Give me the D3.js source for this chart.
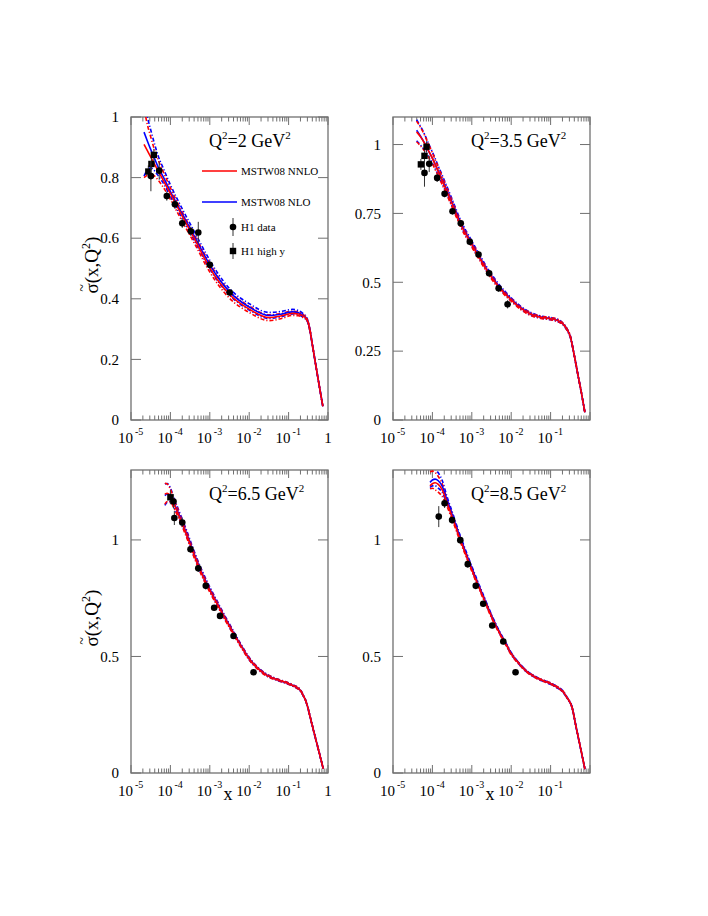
<!DOCTYPE html>
<html><head><meta charset="utf-8">
<script src="https://cdn.jsdelivr.net/npm/d3@7"></script>
<style>
body{margin:0;background:#fff}
text{font-family:"Liberation Serif","Times New Roman",serif;fill:#000}
</style>
</head><body>
<svg id="c" width="708" height="916"></svg>
<script>
// ---------- tick labels / titles ----------
const q2Labels = ["2", "3.5", "6.5", "8.5"];
const xTickExps = [-5, -4, -3, -2, -1];
const yTicks1 = [0, 0.2, 0.4, 0.6, 0.8, 1];
const yTicks2 = [0, 0.25, 0.5, 0.75, 1];
const yTicks3 = [0, 0.5, 1];
const yMax = [1, 1.1, 1.3, 1.3];
const legendLabels = ["MSTW08 NNLO", "MSTW08 NLO", "H1 data", "H1 high y"];

// ---------- Panel 1: Q2 = 2 ----------
const x1 = [2.14e-5,2.6e-5,3.16e-5,3.98e-5,5.0e-5,6.3e-5,1.0e-4,2.0e-4,4.0e-4,1.0e-3,1.58e-3,3.16e-3,1.0e-2,3.16e-2,6.3e-2,0.126,0.178,0.24,0.288,0.347,0.398,0.5,0.63,0.74];
const nnlo1  = [0.910,0.889,0.868,0.844,0.820,0.796,0.747,0.673,0.600,0.502,0.462,0.414,0.366,0.338,0.343,0.352,0.350,0.342,0.334,0.297,0.251,0.174,0.097,0.045];
const nnlo1U = [1.030,0.975,0.935,0.890,0.855,0.825,0.766,0.686,0.612,0.517,0.475,0.425,0.376,0.347,0.351,0.359,0.356,0.347,0.338,0.300,0.254,0.176,0.099,0.047];
const nnlo1L = [0.800,0.808,0.812,0.805,0.790,0.772,0.728,0.655,0.585,0.488,0.449,0.402,0.355,0.328,0.334,0.345,0.344,0.337,0.330,0.294,0.248,0.172,0.095,0.043];
const nlo1   = [0.950,0.921,0.893,0.862,0.832,0.807,0.754,0.680,0.608,0.512,0.472,0.423,0.373,0.345,0.349,0.357,0.354,0.344,0.334,0.297,0.251,0.174,0.097,0.045];
const nlo1U  = [1.050,1.000,0.958,0.910,0.868,0.837,0.776,0.697,0.623,0.527,0.485,0.434,0.384,0.355,0.358,0.365,0.361,0.350,0.339,0.300,0.254,0.176,0.099,0.047];
const nlo1L  = [0.805,0.825,0.832,0.822,0.805,0.786,0.738,0.664,0.594,0.498,0.459,0.412,0.363,0.335,0.340,0.350,0.348,0.338,0.330,0.294,0.248,0.172,0.095,0.043];
const h1data1 = [[3.2e-5,0.805,0.05],[5.2e-5,0.823,0.03],[8.1e-5,0.739,0.015],[1.3e-4,0.712,0.015],[2.0e-4,0.649,0.015],[3.3e-4,0.623,0.015],[5.1e-4,0.619,0.035],[1.0e-3,0.512,0.012],[3.2e-3,0.421,0.01]];
const h1high1 = [[2.75e-5,0.820,0.02],[3.3e-5,0.845,0.02],[3.8e-5,0.875,0.02]];

// ---------- Panel 2: Q2 = 3.5 ----------
const x2 = [3.98e-5,5.0e-5,6.3e-5,7.9e-5,1.0e-4,1.32e-4,2.0e-4,3.16e-4,5.0e-4,1.0e-3,1.58e-3,2.5e-3,5.0e-3,1.0e-2,1.78e-2,3.16e-2,5.6e-2,0.1,0.158,0.209,0.263,0.316,0.398,0.5,0.63,0.74];
const nnlo2  = [1.046,1.028,1.005,0.978,0.950,0.911,0.852,0.785,0.716,0.637,0.588,0.540,0.481,0.436,0.405,0.384,0.373,0.368,0.360,0.348,0.328,0.303,0.235,0.160,0.085,0.028];
const nnlo2U = [1.085,1.062,1.035,1.002,0.970,0.928,0.866,0.797,0.726,0.646,0.596,0.547,0.487,0.441,0.410,0.389,0.377,0.372,0.364,0.351,0.331,0.306,0.237,0.162,0.087,0.030];
const nnlo2L = [1.010,0.995,0.977,0.955,0.930,0.894,0.838,0.773,0.706,0.628,0.580,0.533,0.475,0.431,0.400,0.379,0.369,0.364,0.356,0.345,0.325,0.300,0.233,0.158,0.083,0.026];
const nlo2   = [1.052,1.030,1.006,0.978,0.951,0.913,0.856,0.789,0.720,0.640,0.591,0.543,0.484,0.438,0.407,0.385,0.374,0.368,0.360,0.348,0.328,0.303,0.235,0.160,0.085,0.028];
const nlo2U  = [1.090,1.066,1.038,1.005,0.973,0.932,0.871,0.802,0.731,0.650,0.600,0.551,0.491,0.444,0.412,0.390,0.378,0.372,0.364,0.351,0.331,0.306,0.237,0.162,0.087,0.030];
const nlo2L  = [1.014,0.998,0.979,0.957,0.932,0.897,0.842,0.777,0.710,0.631,0.583,0.536,0.478,0.433,0.402,0.380,0.370,0.364,0.356,0.345,0.325,0.300,0.233,0.158,0.083,0.026];
const h1data2 = [[6.3e-5,0.897,0.05],[8.3e-5,0.930,0.03],[1.32e-4,0.879,0.015],[2.04e-4,0.821,0.012],[3.24e-4,0.758,0.012],[5.25e-4,0.714,0.012],[8.9e-4,0.647,0.012],[1.48e-3,0.601,0.012],[2.75e-3,0.533,0.012],[4.8e-3,0.478,0.012],[8.1e-3,0.420,0.015]];
const h1high2 = [[5.1e-5,0.928,0.02],[6.3e-5,0.959,0.02],[7.1e-5,0.992,0.02]];

// ---------- Panel 3: Q2 = 6.5 ----------
const x3 = [7.24e-5,8.3e-5,1.0e-4,1.26e-4,1.58e-4,2.5e-4,3.98e-4,6.3e-4,1.0e-3,1.58e-3,2.5e-3,3.98e-3,6.3e-3,1.0e-2,1.58e-2,2.75e-2,5.0e-2,8.9e-2,0.141,0.195,0.24,0.288,0.355,0.447,0.562,0.76];
const nnlo3  = [1.196,1.200,1.188,1.150,1.112,1.028,0.937,0.855,0.785,0.722,0.660,0.600,0.543,0.490,0.452,0.420,0.401,0.387,0.372,0.356,0.330,0.298,0.238,0.171,0.105,0.018];
const nnlo3U = [1.243,1.240,1.218,1.170,1.127,1.041,0.948,0.865,0.794,0.730,0.667,0.606,0.548,0.495,0.456,0.424,0.404,0.390,0.375,0.359,0.332,0.300,0.240,0.173,0.107,0.020];
const nnlo3L = [1.153,1.165,1.163,1.132,1.098,1.016,0.926,0.845,0.776,0.714,0.653,0.594,0.538,0.485,0.448,0.416,0.398,0.384,0.369,0.353,0.328,0.296,0.236,0.169,0.103,0.016];
const nlo3   = [1.190,1.198,1.190,1.154,1.117,1.033,0.942,0.859,0.789,0.725,0.663,0.602,0.545,0.491,0.453,0.421,0.401,0.387,0.372,0.356,0.330,0.298,0.238,0.171,0.105,0.018];
const nlo3U  = [1.240,1.242,1.223,1.176,1.133,1.047,0.953,0.870,0.798,0.734,0.670,0.609,0.550,0.496,0.457,0.425,0.404,0.390,0.375,0.359,0.332,0.300,0.240,0.173,0.107,0.020];
const nlo3L  = [1.148,1.162,1.165,1.136,1.103,1.021,0.931,0.849,0.780,0.717,0.656,0.596,0.540,0.486,0.449,0.417,0.398,0.384,0.369,0.353,0.328,0.296,0.236,0.169,0.103,0.016];
const h1data3 = [[1.2e-4,1.165,0.03],[1.26e-4,1.094,0.03],[2.0e-4,1.075,0.02],[3.24e-4,0.960,0.015],[5.1e-4,0.878,0.015],[7.9e-4,0.803,0.015],[1.29e-3,0.709,0.012],[1.82e-3,0.674,0.012],[4.0e-3,0.588,0.012],[1.29e-2,0.432,0.012]];
const h1high3 = [[1.0e-4,1.183,0.03]];

// ---------- Panel 4: Q2 = 8.5 ----------
const x4 = [8.7e-5,1.0e-4,1.17e-4,1.41e-4,1.78e-4,2.29e-4,3.16e-4,5.0e-4,7.9e-4,1.32e-3,2.09e-3,3.3e-3,5.0e-3,7.6e-3,9.3e-3,1.58e-2,2.45e-2,5.0e-2,9.8e-2,0.141,0.209,0.269,0.347,0.447,0.562,0.74];
const nnlo4  = [1.232,1.241,1.245,1.238,1.215,1.165,1.100,1.005,0.917,0.822,0.742,0.664,0.602,0.548,0.520,0.469,0.436,0.404,0.384,0.370,0.348,0.320,0.284,0.195,0.115,0.018];
const nnlo4U = [1.292,1.295,1.290,1.272,1.240,1.180,1.112,1.014,0.925,0.829,0.748,0.669,0.606,0.552,0.524,0.472,0.439,0.407,0.387,0.373,0.351,0.322,0.286,0.197,0.117,0.020];
const nnlo4L = [1.219,1.222,1.215,1.205,1.186,1.148,1.088,0.996,0.909,0.815,0.736,0.659,0.598,0.544,0.516,0.466,0.433,0.401,0.381,0.367,0.345,0.318,0.282,0.193,0.113,0.016];
const nlo4   = [1.247,1.257,1.261,1.254,1.230,1.177,1.110,1.013,0.924,0.828,0.747,0.668,0.605,0.550,0.522,0.470,0.437,0.404,0.384,0.370,0.348,0.320,0.284,0.195,0.115,0.018];
const nlo4U  = [1.310,1.312,1.305,1.288,1.255,1.192,1.122,1.022,0.932,0.835,0.753,0.673,0.609,0.554,0.526,0.473,0.440,0.407,0.387,0.373,0.351,0.322,0.286,0.197,0.117,0.020];
const nlo4L  = [1.225,1.232,1.232,1.222,1.203,1.160,1.098,1.004,0.916,0.821,0.741,0.663,0.601,0.546,0.518,0.467,0.434,0.401,0.381,0.367,0.345,0.318,0.282,0.193,0.113,0.016];
const h1data4 = [[1.45e-4,1.100,0.045],[2.04e-4,1.157,0.02],[3.16e-4,1.085,0.015],[5.1e-4,0.999,0.015],[7.9e-4,0.896,0.015],[1.26e-3,0.803,0.012],[1.95e-3,0.726,0.012],[3.3e-3,0.633,0.012],[6.3e-3,0.564,0.012],[1.29e-2,0.432,0.012]];
const h1high4 = [];

// ---------- build ----------
const panels = [
  {L:131,R:328,T:117,B:420, q2:q2Labels[0], ymax:yMax[0], yt:yTicks1, x:x1, nnlo:[nnlo1,nnlo1U,nnlo1L], nlo:[nlo1,nlo1U,nlo1L], d:h1data1, h:h1high1, one:true, ytitle:true, xtitle:false, legend:true},
  {L:393,R:590,T:117,B:420, q2:q2Labels[1], ymax:yMax[1], yt:yTicks2, x:x2, nnlo:[nnlo2,nnlo2U,nnlo2L], nlo:[nlo2,nlo2U,nlo2L], d:h1data2, h:h1high2, one:false, ytitle:false, xtitle:false, legend:false},
  {L:131,R:328,T:470,B:773, q2:q2Labels[2], ymax:yMax[2], yt:yTicks3, x:x3, nnlo:[nnlo3,nnlo3U,nnlo3L], nlo:[nlo3,nlo3U,nlo3L], d:h1data3, h:h1high3, one:true, ytitle:true, xtitle:true, legend:false},
  {L:393,R:590,T:470,B:773, q2:q2Labels[3], ymax:yMax[3], yt:yTicks3, x:x4, nnlo:[nnlo4,nnlo4U,nnlo4L], nlo:[nlo4,nlo4U,nlo4L], d:h1data4, h:h1high4, one:false, ytitle:false, xtitle:true, legend:false}
];

const svg = d3.select("#c");
const RED = "#ff0000", BLUE = "#0000ff", FRAME = "#707070";
const bandDash = "4,2,1.2,2";

panels.forEach((p, i) => {
  const xs = d3.scaleLog().domain([1e-5, 1]).range([p.L, p.R]);
  const ys = d3.scaleLinear().domain([0, p.ymax]).range([p.B, p.T]);
  const g = svg.append("g");
  const cid = "clip" + i;
  svg.append("clipPath").attr("id", cid).append("rect")
    .attr("x", p.L).attr("y", p.T).attr("width", p.R - p.L).attr("height", p.B - p.T);

  // frame
  g.append("rect").attr("x", p.L).attr("y", p.T).attr("width", p.R - p.L).attr("height", p.B - p.T)
    .attr("fill", "none").attr("stroke", FRAME).attr("stroke-width", 1.3);

  // x ticks (bottom + top)
  const minor = [];
  const major = [];
  for (let e = -5; e <= 0; e++) {
    major.push(Math.pow(10, e));
    if (e < 0) for (let k = 2; k <= 9; k++) minor.push(k * Math.pow(10, e));
  }
  const tg = g.append("g").attr("stroke", FRAME).attr("stroke-width", 1);
  major.forEach(v => {
    tg.append("line").attr("x1", xs(v)).attr("x2", xs(v)).attr("y1", p.B).attr("y2", p.B - 8);
    tg.append("line").attr("x1", xs(v)).attr("x2", xs(v)).attr("y1", p.T).attr("y2", p.T + 8);
  });
  minor.forEach(v => {
    tg.append("line").attr("x1", xs(v)).attr("x2", xs(v)).attr("y1", p.B).attr("y2", p.B - 4.5);
    tg.append("line").attr("x1", xs(v)).attr("x2", xs(v)).attr("y1", p.T).attr("y2", p.T + 4.5);
  });
  // y ticks (left + right)
  p.yt.forEach(v => {
    tg.append("line").attr("x1", p.L).attr("x2", p.L + 10).attr("y1", ys(v)).attr("y2", ys(v));
    tg.append("line").attr("x1", p.R).attr("x2", p.R - 10).attr("y1", ys(v)).attr("y2", ys(v));
    g.append("text").attr("x", p.L - 12).attr("y", ys(v)).attr("dy", "0.35em")
      .attr("text-anchor", "end").attr("font-size", 15).text(String(v));
  });

  // x tick labels
  xTickExps.forEach(e => {
    const xp = xs(Math.pow(10, e));
    g.append("text").attr("x", xp + 2).attr("y", p.B + 23).attr("text-anchor", "end")
      .attr("font-size", 15).text("10");
    g.append("text").attr("x", xp + 4).attr("y", p.B + 15).attr("text-anchor", "start")
      .attr("font-size", 10).text(String(e));
  });
  if (p.one) {
    g.append("text").attr("x", xs(1)).attr("y", p.B + 23).attr("text-anchor", "middle")
      .attr("font-size", 15).text("1");
  }
  if (p.xtitle) {
    g.append("text").attr("x", p.L + 97).attr("y", p.B + 27).attr("text-anchor", "middle")
      .attr("font-size", 18).text("x");
  }
  if (p.ytitle) {
    const cy = (p.T + p.B) / 2 - 13;
    const tg2 = g.append("g").attr("transform", `translate(${p.L - 33},${cy}) rotate(-90)`);
    const t = tg2.append("text").attr("x", -38).attr("text-anchor", "start").attr("font-size", 19);
    t.append("tspan").text("σ(x,Q");
    t.append("tspan").attr("font-size", 12).attr("dy", -8).text("2");
    t.append("tspan").attr("dy", 8).text(")");
    tg2.append("text").attr("x", -32.5).attr("y", -11).attr("text-anchor", "middle")
      .attr("font-size", 14).text("~");
  }

  // Q2 label
  const ql = g.append("text").attr("x", p.L + 78).attr("y", p.T + 30).attr("font-size", 18);
  ql.append("tspan").text("Q");
  ql.append("tspan").attr("font-size", 11).attr("dy", -8).text("2");
  ql.append("tspan").attr("dy", 8).text("=" + p.q2 + " GeV");
  ql.append("tspan").attr("font-size", 11).attr("dy", -8).text("2");

  // curves
  const cg = g.append("g").attr("clip-path", `url(#${cid})`);
  const line = vals => d3.line().curve(d3.curveMonotoneX)
    .x((d, j) => xs(p.x[j])).y(d => ys(d))(vals);
  [[p.nlo, BLUE], [p.nnlo, RED]].forEach(([set, col]) => {
    [set[1], set[2]].forEach(b => {
      cg.append("path").attr("d", line(b)).attr("fill", "none").attr("stroke", col)
        .attr("stroke-width", 1.6).attr("stroke-dasharray", bandDash);
    });
  });
  cg.append("path").attr("d", line(p.nlo[0])).attr("fill", "none").attr("stroke", BLUE).attr("stroke-width", 1.6);
  cg.append("path").attr("d", line(p.nnlo[0])).attr("fill", "none").attr("stroke", RED).attr("stroke-width", 1.6);

  // data
  const dg = g.append("g");
  const errBar = (d) => dg.append("line").attr("x1", xs(d[0])).attr("x2", xs(d[0]))
    .attr("y1", ys(d[1] - d[2])).attr("y2", ys(d[1] + d[2])).attr("stroke", "#333").attr("stroke-width", 1);
  p.h.forEach(d => {
    errBar(d);
    dg.append("rect").attr("x", xs(d[0]) - 3.2).attr("y", ys(d[1]) - 3.2).attr("width", 6.4).attr("height", 6.4).attr("fill", "#000");
  });
  p.d.forEach(d => {
    errBar(d);
    dg.append("circle").attr("cx", xs(d[0])).attr("cy", ys(d[1])).attr("r", 3.3).attr("fill", "#000");
  });

  // legend
  if (p.legend) {
    const lx0 = 202, lx1 = 237, tx = 241;
    g.append("line").attr("x1", lx0).attr("x2", lx1).attr("y1", 171).attr("y2", 171).attr("stroke", RED).attr("stroke-width", 1.6);
    g.append("text").attr("x", tx).attr("y", 171).attr("dy", "0.35em").attr("font-size", 11).text(legendLabels[0]);
    g.append("line").attr("x1", lx0).attr("x2", lx1).attr("y1", 202).attr("y2", 202).attr("stroke", BLUE).attr("stroke-width", 1.6);
    g.append("text").attr("x", tx).attr("y", 202).attr("dy", "0.35em").attr("font-size", 11).text(legendLabels[1]);
    g.append("line").attr("x1", 233).attr("x2", 233).attr("y1", 218).attr("y2", 236).attr("stroke", "#333");
    g.append("circle").attr("cx", 233).attr("cy", 227).attr("r", 3.3).attr("fill", "#000");
    g.append("text").attr("x", tx).attr("y", 227).attr("dy", "0.35em").attr("font-size", 11).text(legendLabels[2]);
    g.append("line").attr("x1", 233).attr("x2", 233).attr("y1", 243).attr("y2", 259).attr("stroke", "#333");
    g.append("rect").attr("x", 229.8).attr("y", 247.8).attr("width", 6.4).attr("height", 6.4).attr("fill", "#000");
    g.append("text").attr("x", tx).attr("y", 251).attr("dy", "0.35em").attr("font-size", 11).text(legendLabels[3]);
  }
});
</script>
</body></html>
